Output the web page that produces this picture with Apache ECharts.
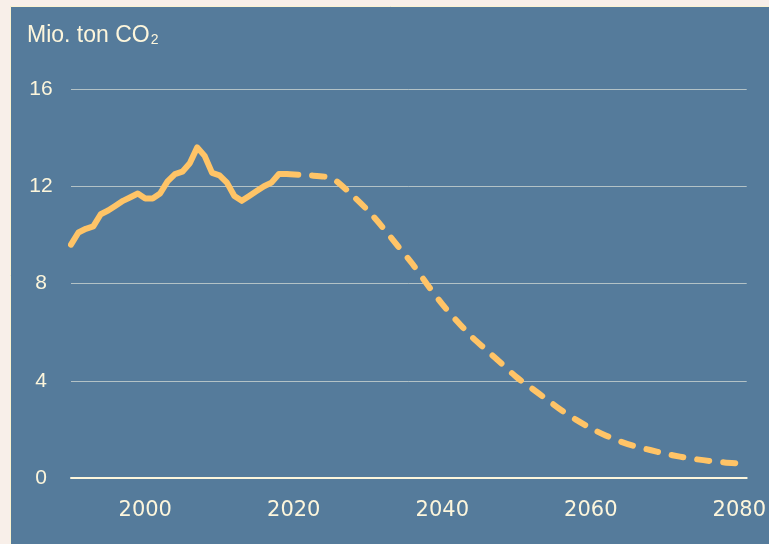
<!DOCTYPE html>
<html>
<head>
<meta charset="utf-8">
<script src="https://cdn.jsdelivr.net/npm/echarts@6/dist/echarts.min.js"></script>
<style>
html,body{margin:0;padding:0;background:#f8efe9;}
#c{width:769px;height:544px;}
</style>
</head>
<body>
<div id="c"></div>
<script>
// Historical emissions (Mio. ton CO2)
const histYears = [1990,1991,1992,1993,1994,1995,1996,1997,1998,1999,2000,2001,2002,2003,2004,2005,2006,2007,2008,2009,2010,2011,2012,2013,2014,2015,2016,2017,2018,2019];
const histValues = [9.6,10.1,10.25,10.35,10.85,11.0,11.2,11.4,11.55,11.7,11.5,11.5,11.7,12.2,12.5,12.6,12.95,13.6,13.25,12.55,12.45,12.15,11.6,11.4,11.6,11.8,12.0,12.15,12.5,12.5];
// Projection
const projYears = [2019,2022,2025,2026,2028,2030,2032,2034,2036,2038,2040,2042,2044,2046,2048,2050,2052,2054,2056,2058,2060,2062,2064,2066,2068,2070,2072,2074,2076,2078,2080];
const projValues = [12.5,12.45,12.35,12.15,11.6,11.0,10.3,9.55,8.8,7.95,7.15,6.45,5.8,5.25,4.7,4.15,3.7,3.25,2.8,2.4,2.05,1.75,1.5,1.3,1.15,1.0,0.88,0.78,0.7,0.64,0.6];
const xTickLabels = [2000,2020,2040,2060,2080];
const yTicks = [0,4,8,12,16];
const unitLabel = 'Mio. ton CO';
const unitSub = '2';

const cream = '#fdf6dc';
const lineColor = '#ffc467';

const chart = echarts.init(document.getElementById('c'), null, {renderer:'canvas'});
chart.setOption({
  animation:false,
  backgroundColor:'#f8efe9',
  graphic:[
    {type:'rect', z:-10, shape:{x:10.5,y:6.5,width:770,height:550}, style:{fill:'#557b9b', stroke:'#fbf3d2', lineWidth:1}},
    {type:'text', left:27, top:24, style:{
      text:'{a|' + unitLabel + '}{s|' + unitSub + '}',
      rich:{
        a:{fill:cream, fontSize:23, fontFamily:'"Liberation Sans", Arial, sans-serif', verticalAlign:'bottom', lineHeight:26},
        s:{fill:cream, fontSize:14, fontFamily:'"Liberation Sans", Arial, sans-serif', verticalAlign:'bottom', lineHeight:26, padding:[6,0,0,1]}
      }
    }}
  ],
  grid:{left:71, right:21, top:89, bottom:66},
  xAxis:{
    type:'value', min:1990, max:2081, interval:10,
    axisLine:{show:true, lineStyle:{color:cream, width:2}},
    axisTick:{show:false},
    splitLine:{show:false},
    axisLabel:{
      color:cream, fontSize:21, fontFamily:'"DejaVu Sans", sans-serif', margin:22,
      formatter:v => xTickLabels.indexOf(v) >= 0 ? String(v) : ''
    }
  },
  yAxis:{
    type:'value', min:yTicks[0], max:yTicks[yTicks.length-1], interval:4,
    axisLine:{show:false}, axisTick:{show:false},
    splitLine:{lineStyle:{color:'#b3c2c6', width:1}},
    axisLabel:{color:cream, fontSize:21, fontFamily:'"Liberation Sans", Arial, sans-serif', align:'center', margin:30}
  },
  series:[
    {type:'line', data:histYears.map((y,i)=>[y,histValues[i]]), showSymbol:false, symbol:'none',
     lineStyle:{color:lineColor, width:6, cap:'round', join:'round'}},
    {type:'line', data:projYears.map((y,i)=>[y,projValues[i]]), showSymbol:false, symbol:'none', smooth:0.3,
     lineStyle:{color:lineColor, width:6, type:[12,14], cap:'round', join:'round'}}
  ]
});
</script>
</body>
</html>
